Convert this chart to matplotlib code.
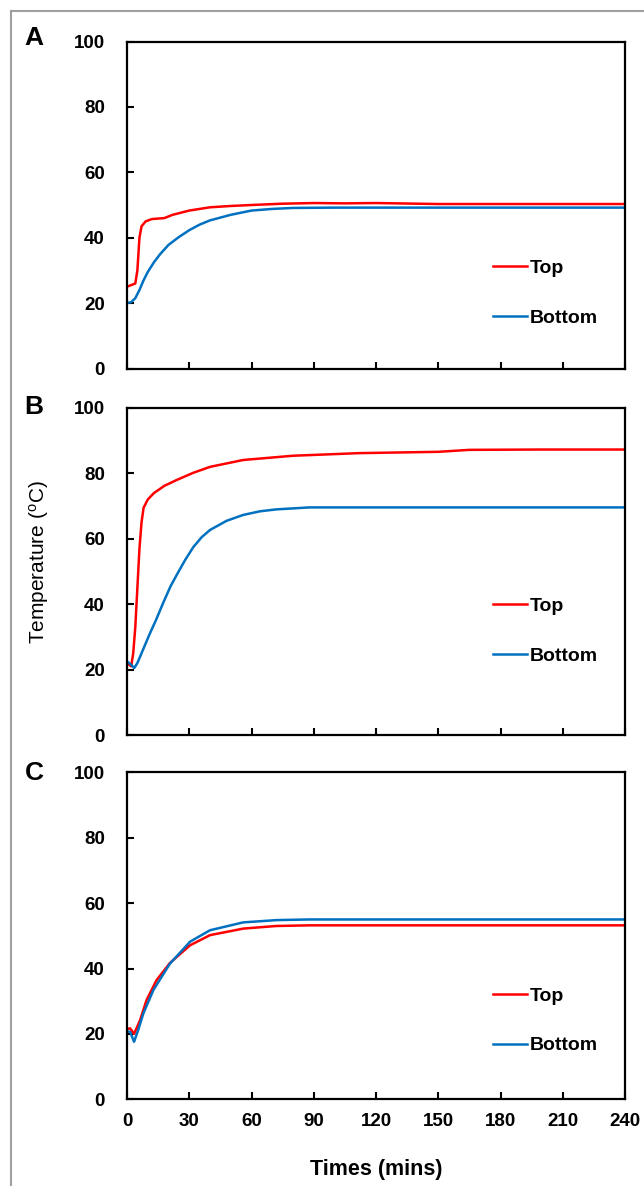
import matplotlib
matplotlib.use("Agg")
import matplotlib.pyplot as plt
from matplotlib.lines import Line2D

plt.rcParams['font.family'] = ['Liberation Sans', 'DejaVu Sans']
plt.rcParams['mathtext.fontset'] = 'custom'
plt.rcParams['mathtext.rm'] = 'Liberation Sans'

# panel A
a_top_t = [0, 2, 4, 5, 6, 7, 9, 12, 18, 22, 30, 40, 50, 60, 75, 90, 105, 120, 140, 150, 180, 210, 240]
a_top_v = [25, 25.5, 26, 30, 40, 43.5, 45, 45.7, 46, 47, 48.3, 49.3, 49.7, 50, 50.4, 50.6, 50.5, 50.6, 50.4, 50.3, 50.3, 50.3, 50.3]
a_bot_t = [0, 2, 4, 6, 8, 10, 13, 16, 20, 25, 30, 35, 40, 50, 60, 70, 80, 100, 140, 240]
a_bot_v = [20, 20.3, 21.5, 24, 27, 29.5, 32.5, 35, 37.8, 40.2, 42.3, 44, 45.3, 47, 48.3, 48.8, 49.1, 49.2, 49.2, 49.2]

# panel B
b_top_t = [0, 2, 3, 4, 5, 6, 7, 8, 10, 13, 18, 24, 32, 40, 56, 80, 112, 150, 165, 200, 240]
b_top_v = [22, 21, 25, 33, 45, 57, 65, 69.5, 72, 74, 76.2, 78, 80.2, 82, 84.1, 85.4, 86.2, 86.6, 87.2, 87.3, 87.3]
b_bot_t = [0, 2, 3.5, 5, 8, 11, 14, 17.5, 21, 24, 28, 32, 36, 40, 48, 56, 64, 72, 88, 240]
b_bot_v = [22.5, 21.5, 20.5, 22, 26.5, 31, 35.2, 40.5, 45.5, 49, 53.5, 57.5, 60.5, 62.7, 65.5, 67.3, 68.4, 69, 69.6, 69.6]

# panel C
c_top_t = [0, 1.5, 3.4, 6.3, 9.4, 14.2, 20.7, 30.4, 40, 56, 72, 88, 240]
c_top_v = [21.5, 21.7, 20, 24.2, 30.3, 36.4, 41.7, 47.1, 50.2, 52.2, 53, 53.2, 53.2]
c_bot_t = [0, 1.5, 3.4, 5.4, 7.9, 12.7, 20.7, 30.4, 40, 56, 72, 88, 240]
c_bot_v = [20.8, 20.6, 17.6, 21.2, 26.3, 33.4, 41.5, 48.2, 51.7, 54.1, 54.8, 55, 55]

panels = [
    ("A", a_top_t, a_top_v, a_bot_t, a_bot_v),
    ("B", b_top_t, b_top_v, b_bot_t, b_bot_v),
    ("C", c_top_t, c_top_v, c_bot_t, c_bot_v),
]
legend_y = [0.23, 0.318, 0.24]

W, H = 644, 1186
fig = plt.figure(figsize=(W / 100, H / 100), dpi=100)

left = 127 / W
width = (625 - 127) / W
height = 327 / H
bottoms_px = [368.5, 735, 1099.3]
letter_y = [38, 407, 773]

for i, (name, tt, tv, bt, bv) in enumerate(panels):
    ax = fig.add_axes([left, 1 - bottoms_px[i] / H, width, height])
    ax.plot(tt, tv, color='#ff0000', lw=1.8, label='Top')
    ax.plot(bt, bv, color='#0070c0', lw=1.8, label='Bottom')
    ax.set_xlim(0, 240)
    ax.set_ylim(0, 100)
    ax.set_xticks(range(0, 241, 30))
    ax.set_yticks(range(0, 101, 20))
    for s in ['top', 'right', 'bottom', 'left']:
        ax.spines[s].set_linewidth(1.6)
        ax.spines[s].set_color('black')
    ax.tick_params(direction='in', length=5, width=1.5, labelsize=13.5)
    ax.tick_params(axis='y', pad=16)
    ax.tick_params(axis='x', pad=10)
    for lab in ax.get_xticklabels() + ax.get_yticklabels():
        lab.set_fontweight('bold')
    if i < 2:
        ax.set_xticklabels([])
    else:
        ax.set_xlabel('Times (mins)', fontsize=15.5, fontweight='bold', labelpad=21)
    ax.legend(loc='center left', bbox_to_anchor=(0.735, legend_y[i]), frameon=False,
              borderpad=0, borderaxespad=0, handlelength=1.75, handletextpad=0.15,
              labelspacing=1.65, prop={'size': 14, 'weight': 'bold'})
    fig.text(34 / W, 1 - letter_y[i] / H, name, fontsize=19, fontweight='bold',
             ha='center', va='center')

fig.text(39 / W, 1 - 562 / H, r'Temperature ($\mathregular{^{o}}$C)', rotation=90,
         fontsize=15, ha='center', va='center')

# outer frame
fig.add_artist(Line2D([10.5 / W, 10.5 / W], [0, 1 - 10.5 / H], transform=fig.transFigure,
                      color='#a0a0a0', lw=1.5))
fig.add_artist(Line2D([10.5 / W, 1], [1 - 10.5 / H, 1 - 10.5 / H], transform=fig.transFigure,
                      color='#a0a0a0', lw=1.5))

fig.savefig('out.png', dpi=100)
